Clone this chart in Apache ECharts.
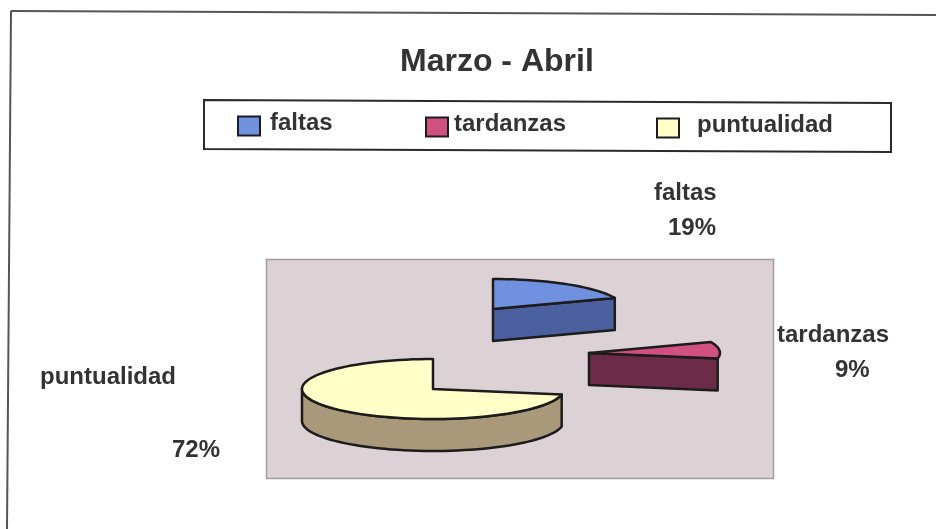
<!DOCTYPE html>
<html>
<head>
<meta charset="utf-8">
<style>html,body{margin:0;padding:0;background:#fff}#c{width:936px;height:529px}</style>
<script src="https://cdn.jsdelivr.net/npm/echarts@6/dist/echarts.min.js"></script>
</head>
<body>
<div id="c"></div>
<script>
// Data
const categories = ['faltas', 'tardanzas', 'puntualidad'];
const percentages = [19, 9, 72];
const chartTitle = 'Marzo - Abril';

// Styling and layout (not data)
const topColors = ['#7090e0', '#d0507f', '#ffffc8'];
const wallColors = ['#4c609f', '#6c2c48', '#aa987a'];
const ink = '#1c1c1c', textInk = '#333333';
const font = '"Liberation Sans", Arial, sans-serif';
const rx = 131, ry = 30, depth = 32;
const origins = [[493, 309], [589, 353], [433, 389]];
const nameAt = [[654, 193], [777, 335], [40, 377]];
const pctAt = [[668, 228], [835, 370], [172, 450]];
const legendLeft = [237, 425, 656];
const legendTop = [111, 112, 113];
const legendTextGap = [5, 1, 13];
const legendTextLift = 6;

const starts = [];
percentages.reduce((sum, v, i) => { starts[i] = sum; return sum + v; }, 0);

function rim(o, deg, drop) {
  const a = deg * Math.PI / 180;
  return [o[0] + rx * Math.sin(a), o[1] - ry * Math.cos(a) + (drop || 0)];
}
function arc(o, from, to, drop) {
  const pts = [];
  const n = Math.max(2, Math.ceil((to - from) / 3));
  for (let i = 0; i <= n; i++) pts.push(rim(o, from + (to - from) * i / n, drop));
  return pts;
}
function poly(points, fill) {
  return { type: 'polygon', shape: { points },
    style: { fill, stroke: ink, lineWidth: 2.5, lineJoin: 'round' } };
}
function label(text, at) {
  return { type: 'text', x: at[0], y: at[1],
    style: { text, fill: textInk, font: 'bold 24px ' + font, textAlign: 'left', textVerticalAlign: 'middle' } };
}
function renderSlice(params, api) {
  const i = params.seriesIndex;
  const o = origins[i];
  const from = api.value(0) / 100 * 360;
  const to = (api.value(0) + api.value(1)) / 100 * 360;
  const kids = [];
  const wf = Math.max(from, 90), wt = Math.min(to, 270);
  if (to > 180 && wt > wf) {
    kids.push(poly(arc(o, wf, wt, 0).concat(arc(o, wf, wt, depth).reverse()), wallColors[i]));
  }
  const cut = (deg) => [[o[0], o[1]], rim(o, deg), rim(o, deg, depth), [o[0], o[1] + depth]];
  if (to > 0 && to < 180) kids.push(poly(cut(to), wallColors[i]));
  if (from > 180 && from < 360) kids.push(poly(cut(from), wallColors[i]));
  kids.push(poly([[o[0], o[1]]].concat(arc(o, from, to, 0)), topColors[i]));
  kids.push(label(params.seriesName, nameAt[i]));
  kids.push(label(api.value(1) + '%', pctAt[i]));
  return { type: 'group', children: kids };
}

const chart = echarts.init(document.getElementById('c'), null, { renderer: 'canvas' });
chart.setOption({
  animation: false,
  backgroundColor: '#ffffff',
  title: { text: chartTitle, left: 400, top: 46, padding: 0,
    textStyle: { fontFamily: font, fontWeight: 'bold', fontSize: 32, color: textInk } },
  legend: categories.map((name, i) => ({
    data: [name], left: legendLeft[i], top: legendTop[i], padding: 0,
    icon: 'rect', itemWidth: 22, itemHeight: 19, selectedMode: false,
    itemStyle: { borderColor: ink, borderWidth: 2 },
    formatter: (n) => '{t|' + n + '}',
    textStyle: { rich: { t: { fontFamily: font, fontWeight: 'bold', fontSize: 24, color: textInk,
      padding: [0, 0, legendTextLift, legendTextGap[i]] } } }
  })),
  graphic: [
    { type: 'line', shape: { x1: 11, y1: 11, x2: 936, y2: 15 }, style: { stroke: '#555555', lineWidth: 2 } },
    { type: 'line', shape: { x1: 11, y1: 11, x2: 7, y2: 529 }, style: { stroke: '#555555', lineWidth: 2 } },
    { type: 'polygon', shape: { points: [[204, 100], [891, 103], [891, 152], [204, 149]] },
      style: { fill: '#ffffff', stroke: '#2a2a2a', lineWidth: 2 } },
    { type: 'rect', shape: { x: 266.5, y: 259.5, width: 507, height: 219 },
      style: { fill: '#dcd2d6', stroke: '#a39a9e', lineWidth: 1.5 } }
  ],
  series: categories.map((name, i) => ({
    type: 'custom', name, coordinateSystem: 'none', silent: true, z: 5,
    itemStyle: { color: topColors[i] },
    data: [[starts[i], percentages[i]]],
    renderItem: renderSlice
  }))
});
</script>
</body>
</html>
